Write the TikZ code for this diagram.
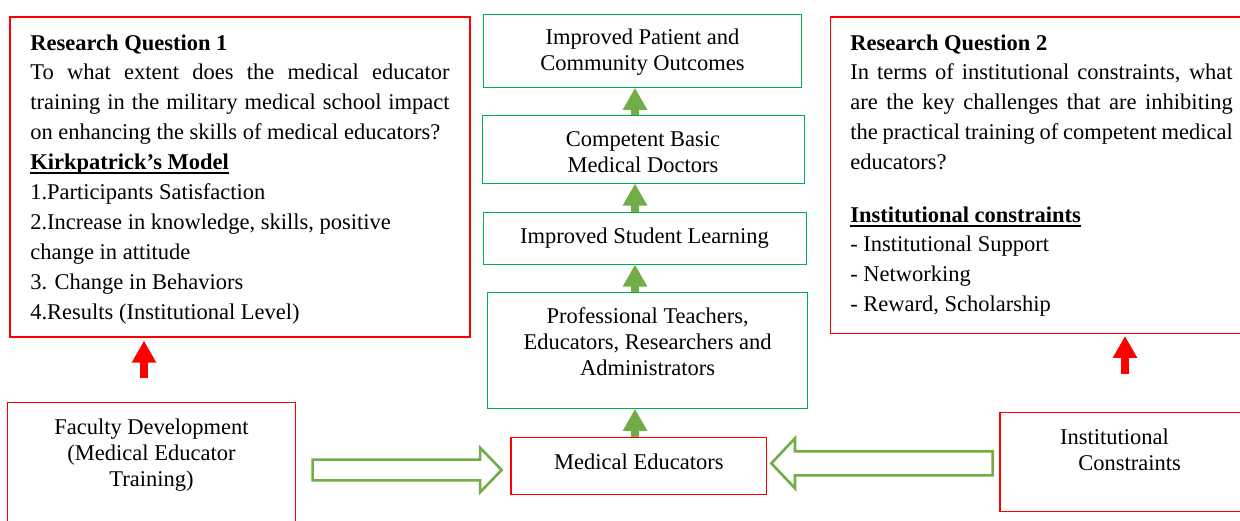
\documentclass[tikz,border=0pt]{standalone}
\usepackage{fontspec}
\setmainfont{Liberation Serif}
\usetikzlibrary{arrows.meta,calc}

\definecolor{boxred}{HTML}{FF0000}
\definecolor{boxgreen}{HTML}{00B050}
\definecolor{arrowgreen}{HTML}{70AD47}

% invisible struts that fix the height of a first line / depth of a last line
\newcommand\tstrut[1]{\rule{0pt}{#1pt}}
\newcommand\dstrut[1]{\rule[-#1pt]{0pt}{#1pt}}
% a line stretched to a given width (justified)
\newcommand\fullline[2]{\makebox[#1pt][s]{#2}}
% bold heading with a flat underline
\newcommand\ulbold[1]{\setbox0\hbox{\bfseries #1}\rlap{\rule[-4.8pt]{\wd0}{2.2pt}}\box0}

\tikzset{
  basebox/.style={inner sep=0pt, font=\fontsize{22.5}{26}\selectfont},
  redbox/.style={basebox, draw=boxred, line width=1.3pt},
  greenbox/.style={basebox, draw=boxgreen, line width=1pt, align=center},
  rqbox/.style={redbox, align=left, font=\fontsize{22.5}{29.9}\selectfont},
  solidarrow/.style={draw=arrowgreen, line width=8pt, -{Triangle[width=23pt,length=22pt]}},
  redarrow/.style={draw=boxred, line width=8pt, -{Triangle[width=23pt,length=22pt]}},
  hollowarrow/.style={draw=arrowgreen, line width=2.6pt, fill=white, line join=miter},
}

\begin{document}
\begin{tikzpicture}[x=1pt, y=-1pt]
\useasboundingbox (0,0) rectangle (1240,520);
\fill[white] (0,0) rectangle (1240,520);
\clip (0,0) rectangle (1240,520);

% research questions
\node[rqbox, minimum width=460pt, minimum height=320pt] (rq1) at (240,177) {%
\tstrut{20}\textbf{Research Question 1}\\
\fullline{419.3}{To what extent does the medical educator}\\
\fullline{419.3}{training in the military medical school impact}\\
on enhancing the skills of medical educators?\\
\ulbold{Kirkpatrick’s Model}\\
1.Participants Satisfaction\\
2.Increase in knowledge, skills, positive\\
change in attitude\\
3. Change in Behaviors\\
4.Results (Institutional Level)\dstrut{4.9}};

\node[rqbox, minimum width=422.4pt, minimum height=316.3pt] (rq2) at (1041.5,175.15) {%
\tstrut{16.4}\textbf{Research Question 2}\\
\fullline{382.4}{In terms of institutional constraints, what}\\
\fullline{382.4}{are the key challenges that are inhibiting}\\
\fullline{382.4}{the practical training of competent medical}\\
educators?\\[22.5pt]
\ulbold{Institutional constraints}\\
- Institutional Support\\
- Networking\\
- Reward, Scholarship\dstrut{5}};

% outcome chain
\node[greenbox, minimum width=318.4pt, minimum height=73.3pt] (out) at (642.5,50.65)
  {\tstrut{19.6}Improved Patient and\\Community Outcomes\dstrut{5}};
\node[greenbox, minimum width=322pt, minimum height=68pt] (doc) at (643,149)
  {\tstrut{21.4}Competent Basic\\Medical Doctors};
\node[greenbox, minimum width=323pt, minimum height=52pt] (learn) at (644.5,238)
  {\tstrut{15.6}Improved Student Learning\dstrut{5}};
\node[greenbox, minimum width=320pt, minimum height=115.6pt] (prof) at (647.7,350.5)
  {\tstrut{16}Professional Teachers,\\Educators, Researchers and\\Administrators\dstrut{18.4}};
\node[redbox, align=center, minimum width=255.7pt, minimum height=56.8pt] (me) at (638.85,465.9)
  {\tstrut{16}Medical Educators\dstrut{9.8}};

% inputs
\node[redbox, align=center, minimum width=288.4pt, minimum height=122.7pt] (fac) at (151.5,463.65)
  {\tstrut{16}Faculty Development\\(Medical Educator\\Training)\dstrut{23.3}};
\node[redbox, align=left, minimum width=241pt, minimum height=99.4pt] (inst) at (1120.5,462)
  {\tstrut{16}Institutional\\\hspace*{18.3pt}Constraints\dstrut{26}};

% upward chain arrows
\coordinate (ax) at (635,0);
\draw[solidarrow] (doc.north -| ax) -- (out.south -| ax);
\draw[solidarrow] (learn.north -| ax) -- (doc.south -| ax);
\draw[solidarrow] (prof.north -| ax) -- (learn.south -| ax);
\draw[solidarrow] (me.north -| ax) -- (prof.south -| ax);

% arrows up to the research questions
\coordinate (lx) at (144,0);
\coordinate (rx) at (1125,0);
\draw[redarrow, shorten <=24pt, shorten >=3pt] (fac.north -| lx) -- (rq1.south -| lx);
\draw[redarrow, shorten <=37.6pt, shorten >=2pt] (inst.north -| rx) -- (rq2.south -| rx);

% hollow block arrows into Medical Educators
\coordinate (fl) at ($(fac.east)+(16.3,6.35)$);
\coordinate (fr) at ($(me.west)+(-8.7,4.1)$);
\draw[hollowarrow] let \p1=(fl), \p2=(fr) in
  (\x1,\y1+10.35pt) -- (\x2-21.6pt,\y1+10.35pt) -- (\x2-21.6pt,\y1+22.3pt) -- (\x2,\y1)
  -- (\x2-21.6pt,\y1-22.3pt) -- (\x2-21.6pt,\y1-10.35pt) -- (\x1,\y1-10.35pt) -- cycle;

\coordinate (ir) at ($(inst.west)+(-6.7,1.3)$);
\coordinate (il) at ($(me.east)+(4,-2.6)$);
\draw[hollowarrow] let \p1=(ir), \p2=(il) in
  (\x1,\y1+12pt) -- (\x2+23.6pt,\y1+12pt) -- (\x2+23.6pt,\y1+25pt) -- (\x2,\y1)
  -- (\x2+23.6pt,\y1-25pt) -- (\x2+23.6pt,\y1-12pt) -- (\x1,\y1-12pt) -- cycle;
\end{tikzpicture}
\end{document}
